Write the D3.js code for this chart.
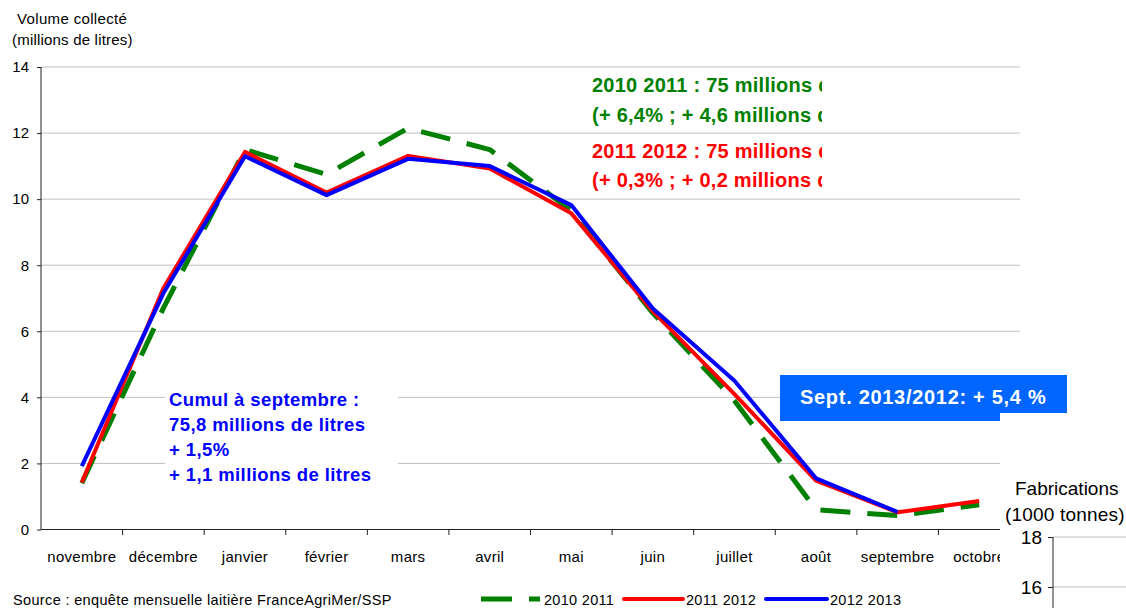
<!DOCTYPE html>
<html><head><meta charset="utf-8">
<script src="https://cdn.jsdelivr.net/npm/d3@7"></script>
<style>
html,body{margin:0;padding:0;background:#fff;}
svg{display:block;font-family:"Liberation Sans",Arial,sans-serif;}
</style></head>
<body>
<svg id="c" width="1126" height="608"></svg>
<script>
const months = ["novembre","décembre","janvier","février","mars","avril","mai","juin","juillet","août","septembre","octobre"];
const s2010_2011 = [1.4, 6.7, 11.5, 10.75, 12.15, 11.5, 9.65, 6.55, 3.9, 0.6, 0.42, 0.75];
const s2011_2012 = [1.42, 7.3, 11.43, 10.2, 11.31, 10.93, 9.57, 6.6, 4.1, 1.48, 0.52, 0.86];
const s2012_2013 = [1.92, 7.15, 11.3, 10.12, 11.22, 11.0, 9.82, 6.69, 4.5, 1.55, 0.53];
const yTicks = [0,2,4,6,8,10,12,14];
const seriesNames = ["2010 2011","2011 2012","2012 2013"];
const seriesColors = ["#008000","#ff0000","#0000ff"];
const noteGreen = ["2010 2011 : 75 millions de litres","(+ 6,4% ; + 4,6 millions de litres)"];
const noteRed = ["2011 2012 : 75 millions de litres","(+ 0,3% ; + 0,2 millions de litres)"];
const noteBlue = ["Cumul à septembre :","75,8 millions de litres","+ 1,5%","+ 1,1 millions de litres"];
const noteSept = "Sept. 2013/2012: + 5,4 %";
const fabTicks = [16,18];

const svg = d3.select("#c");
const x = d3.scaleBand().domain(months).range([41,1020]);
const y = d3.scaleLinear().domain([0,14]).range([529.5,67]);

// gridlines
svg.append("g").selectAll("line").data(yTicks.filter(d=>d>0)).join("line")
  .attr("x1",41).attr("x2",1020).attr("y1",d=>y(d)).attr("y2",d=>y(d))
  .attr("stroke","#c0c0c0").attr("stroke-width",1);

// y axis
const ya = svg.append("g").attr("transform","translate(41,0)")
  .call(d3.axisLeft(y).tickValues(yTicks).tickSize(4).tickPadding(8).tickFormat(d3.format("d")));
ya.select(".domain").attr("stroke","#222").attr("d","M0,67V529.5");
ya.selectAll(".tick line").attr("stroke","#222");
ya.selectAll("text").attr("font-size",15).attr("fill","#000").attr("font-family","Liberation Sans, Arial, sans-serif");

// x axis
const xa = svg.append("g").attr("transform","translate(0,529.5)")
  .call(d3.axisBottom(x).tickSize(0).tickPadding(22));
xa.select(".domain").attr("stroke","#222").attr("d","M41,0H1020");
xa.selectAll("text").attr("font-size",15).attr("letter-spacing",0.3).attr("fill","#000").attr("font-family","Liberation Sans, Arial, sans-serif");
svg.append("g").selectAll("line").data(months).join("line")
  .attr("x1",d=>x(d)+x.bandwidth()).attr("x2",d=>x(d)+x.bandwidth())
  .attr("y1",529.5).attr("y2",535).attr("stroke","#222");

// lines
const line = d3.line().x((d,i)=>x(months[i])+x.bandwidth()/2).y(d=>y(d));
const allSeries = [s2010_2011,s2011_2012,s2012_2013];
allSeries.forEach((s,k)=>{
  svg.append("path").datum(s).attr("d",line).attr("fill","none")
    .attr("stroke",seriesColors[k]).attr("stroke-width",k===0?5:4)
    .attr("stroke-dasharray",k===0?"30,17":null)
    .attr("stroke-linejoin","round");
});

// axis title
svg.append("text").attr("x",17).attr("y",24).attr("font-size",15).attr("letter-spacing",0.35).text("Volume collecté");
svg.append("text").attr("x",12).attr("y",45).attr("font-size",15).attr("letter-spacing",0.2).text("(millions de litres)");

// top-right notes, clipped
svg.append("clipPath").attr("id","clipNote").append("rect").attr("x",580).attr("y",60).attr("width",242).attr("height",140);
const ng = svg.append("g").attr("clip-path","url(#clipNote)").attr("font-weight","bold").attr("font-size",20).attr("letter-spacing",0.25);
ng.selectAll("text.g").data(noteGreen).join("text").attr("class","g")
  .attr("x",592).attr("y",(d,i)=>92+i*30).attr("fill","#008000").text(d=>d);
ng.selectAll("text.r").data(noteRed).join("text").attr("class","r")
  .attr("x",592).attr("y",(d,i)=>158+i*29).attr("fill","#ff0000").text(d=>d);

// cumul box
svg.append("rect").attr("x",165).attr("y",384).attr("width",233).attr("height",105).attr("fill","#fff");
svg.append("g").attr("font-weight","bold").attr("font-size",18.5).attr("letter-spacing",0.4).attr("fill","#0000ff")
  .selectAll("text").data(noteBlue).join("text")
  .attr("x",169).attr("y",(d,i)=>406+i*25).text(d=>d);

// Sept box
svg.append("rect").attr("x",780).attr("y",375).attr("width",287).attr("height",46).attr("fill","#0066ff");
svg.append("text").attr("x",800).attr("y",404).attr("font-weight","bold").attr("font-size",20).attr("letter-spacing",0.7).attr("fill","#fff").text(noteSept);

// second chart (overlapping)
svg.append("rect").attr("x",1000).attr("y",413).attr("width",126).attr("height",195).attr("fill","#fff");
svg.append("text").attr("x",1015).attr("y",495).attr("font-size",19).text("Fabrications");
svg.append("text").attr("x",1005).attr("y",521).attr("font-size",19).attr("letter-spacing",0.2).text("(1000 tonnes)");
const y2 = d3.scaleLinear().domain([16,18]).range([587,537]);
svg.append("g").selectAll("line").data(fabTicks).join("line")
  .attr("x1",1053).attr("x2",1126).attr("y1",d=>y2(d)).attr("y2",d=>y2(d)).attr("stroke","#c0c0c0");
const ya2 = svg.append("g").attr("transform","translate(1053,0)")
  .call(d3.axisLeft(y2).tickValues(fabTicks).tickSize(5).tickPadding(6).tickFormat(d3.format("d")));
ya2.select(".domain").attr("stroke","#222").attr("d","M0,537V608");
ya2.selectAll(".tick line").attr("stroke","#222");
ya2.selectAll("text").attr("font-size",19).attr("fill","#000").attr("font-family","Liberation Sans, Arial, sans-serif");

// source
svg.append("text").attr("x",13).attr("y",605).attr("font-size",14.5).attr("letter-spacing",0.35).text("Source : enquête mensuelle laitière FranceAgriMer/SSP");

// legend
const lg = svg.append("g");
const legX = [[481,540,544],[624,683,686],[766,827,830]];
seriesNames.forEach((n,k)=>{
  lg.append("line").attr("x1",legX[k][0]).attr("x2",legX[k][1]).attr("y1",599).attr("y2",599)
    .attr("stroke",seriesColors[k]).attr("stroke-width",k===0?5:4)
    .attr("stroke-dasharray",k===0?"31,17":null).attr("stroke-linecap",k===0?"butt":"round");
  lg.append("text").attr("x",legX[k][2]).attr("y",605).attr("font-size",14.5).attr("letter-spacing",0.3).text(n);
});
</script>
</body></html>
